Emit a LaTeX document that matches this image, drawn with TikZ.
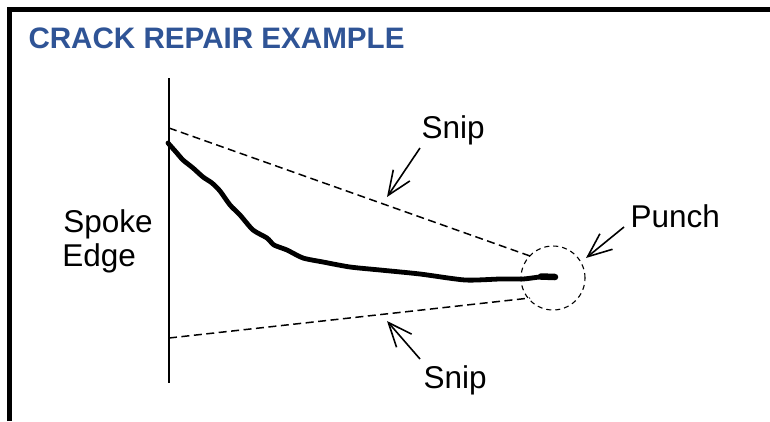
\documentclass[tikz,border=0pt]{standalone}
\usepackage{fontspec}
\setmainfont{Liberation Sans}
\usetikzlibrary{arrows.meta}
\definecolor{titleblue}{RGB}{47,84,150}
\tikzset{
  lbl/.style={anchor=base west, inner sep=0pt, outer sep=0pt, font=\fontsize{31.5}{31.5}\selectfont},
  ttl/.style={anchor=base west, inner sep=0pt, outer sep=0pt, text=titleblue, font=\fontsize{29.6}{29.6}\selectfont\bfseries},
  snipline/.style={line width=1.5pt, dash pattern=on 8pt off 4.5pt},
  punchcircle/.style={circle, draw, line width=1.1pt, dash pattern=on 5pt off 4pt, minimum size=64pt, inner sep=0pt},
  pointer/.style={line width=1.6pt, -{Straight Barb[length=24pt, width=20pt, line width=1.6pt]}},
  frame/.style={line width=5pt, line join=miter},
  crack/.style={line width=4.8pt, line cap=round, line join=round},
  edge line/.style={line width=1.4pt}
}
\begin{document}
\begin{tikzpicture}[x=1pt, y=-1pt]
\useasboundingbox (0,0) rectangle (770,421);
% frame (top and left)
\draw[frame] (9.8,421) -- (9.8,9.8) -- (770,9.8);
% title
\node[ttl] (title) at (28.5,48) {CRACK REPAIR EXAMPLE};
% spoke edge
\coordinate (edgetop) at (169,78);
\coordinate (edgebot) at (169,383);
\draw[edge line] (edgetop) -- (edgebot);
\node[lbl] (spoke) at (63.4,232) {Spoke};
\node[lbl] (edge) at (62.4,266) {Edge};
% punch circle
\node[punchcircle] (punch) at (553,278) {};
% snip lines
\coordinate (sniptopstart) at (169,128);
\coordinate (sniptopend) at (530,256);
\coordinate (snipbotstart) at (169,338);
\coordinate (snipbotend) at (530,298);
\draw[snipline] (sniptopstart) -- (sniptopend);
\draw[snipline] (snipbotstart) -- (snipbotend);
% crack
\draw[crack] plot[smooth, tension=0.4] coordinates {(168,143) (176,152) (183,160) (193,168) (203,177) (212,183) (220,191) (230,205) (240,215) (253,230) (267,238) (274,245) (287,250) (303,258) (323,262) (350,267) (380,270) (420,274) (465,280) (500,279) (523,279) (540,277) (555,277)};
\draw[line width=6.5pt, line cap=round] (541,276.5) -- (555,277);
% labels
\node[lbl] (snipA) at (421.6,138) {Snip};
\node[lbl] (snipB) at (423.6,388) {Snip};
\node[lbl] (punchlbl) at (630.6,227) {Punch};
% pointers
\coordinate (pA) at (420,148);
\coordinate (tA) at (387,197);
\coordinate (pB) at (420,359);
\coordinate (tB) at (387,321);
\coordinate (pC) at (624,227);
\coordinate (tC) at (586,258);
\draw[pointer] (pA) -- (tA);
\draw[pointer] (pB) -- (tB);
\draw[pointer] (pC) -- (tC);
\end{tikzpicture}
\end{document}
